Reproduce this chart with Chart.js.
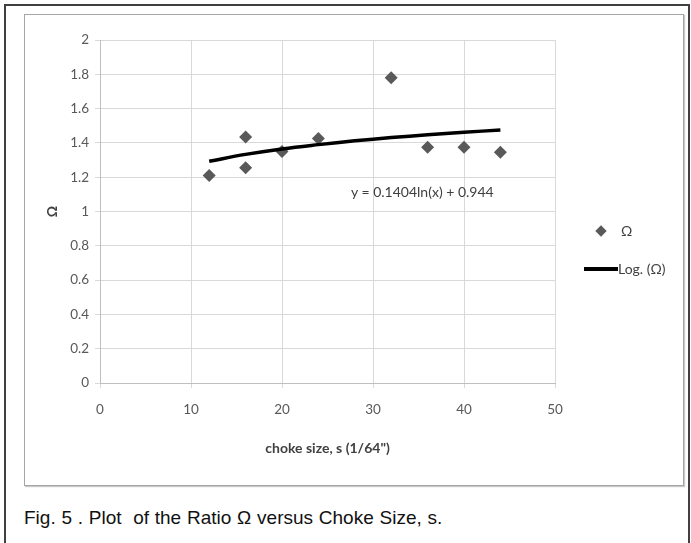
<!DOCTYPE html>
<html>
<head>
<meta charset="utf-8">
<script src="https://cdn.jsdelivr.net/npm/chart.js@4"></script>
<style>
  body { margin: 0; background: #fff; width: 691px; height: 543px; overflow: hidden; position: relative; }
  #outer { position: absolute; left: 4px; top: 4px; width: 682px; height: 600px; border: 2px solid #404040; }
  #box { position: absolute; left: 24px; top: 14px; width: 658px; height: 470px; border: 1px solid #a6a6a6; box-shadow: 1px 1px 1px #c8c8c8; }
  #grafik { position: absolute; left: 0; top: 0; }
  .txt { position: absolute; font-family: Lato, sans-serif; color: #404040; font-size: 14px; white-space: nowrap; }
  #caption { position: absolute; left: 24px; top: 507px; font-family: "Liberation Sans", Arial, sans-serif; font-size: 19px; word-spacing: 0.5px; color: #111; white-space: nowrap; }
</style>
</head>
<body>
<div id="outer"></div>
<div id="box">
  <canvas id="grafik" width="658" height="470"></canvas>
  <div class="txt" style="left:326px; top:168px;">y = 0.1404ln(x) + 0.944</div>
  <!-- legend -->
  <div style="position:absolute; left:572px; top:212px; width:8px; height:8px; background:#595959; transform:rotate(45deg);"></div>
  <div class="txt" style="left:596px; top:207px;">Ω</div>
  <div style="position:absolute; left:559px; top:252px; width:34px; height:4px; background:#000;"></div>
  <div class="txt" style="left:593px; top:245px;">Log. (Ω)</div>
</div>
<div id="caption">Fig. 5 . Plot&nbsp; of the Ratio Ω versus Choke Size, s.</div>

<script>
// ======================
// DATA
// ======================

const chokeSize = [12, 16, 16, 20, 24, 32, 36, 40, 44];
const omega = [1.21, 1.435, 1.255, 1.35, 1.425, 1.78, 1.375, 1.375, 1.345];

// trendline (Log. (Ω))
const trendX = [12, 16, 20, 24, 28, 32, 36, 40, 44];
const trendY = [1.293, 1.333, 1.365, 1.390, 1.412, 1.431, 1.447, 1.462, 1.475];

const xTicks = [0, 10, 20, 30, 40, 50];
const yTicks = [0, 0.2, 0.4, 0.6, 0.8, 1, 1.2, 1.4, 1.6, 1.8, 2];

const fontAxis = { family: 'Lato, sans-serif', size: 13.5 };
const fontTitle = { family: 'Lato, sans-serif', size: 14, weight: 'bold' };

// ======================
// GRAFIK
// ======================

const ctx = document.getElementById("grafik");

new Chart(ctx, {
    type: "scatter",
    data: {
        datasets: [{
            label: "Ω",
            data: chokeSize.map((s, i) => ({ x: s, y: omega[i] })),
            pointStyle: "rectRot",
            pointRadius: 6.5,
            backgroundColor: "#595959",
            borderColor: "#595959",
            borderWidth: 0,
            order: 1
        }, {
            label: "Log. (Ω)",
            type: "line",
            data: trendX.map((s, i) => ({ x: s, y: trendY[i] })),
            borderColor: "#000",
            borderWidth: 3.5,
            pointRadius: 0,
            tension: 0.4,
            fill: false,
            order: 0
        }]
    },
    options: {
        responsive: false,
        animation: false,
        layout: { padding: { left: 0, top: 25, right: 128, bottom: 0 } },
        plugins: {
            legend: { display: false },
            tooltip: { enabled: false }
        },
        scales: {
            x: {
                type: "linear",
                min: 0,
                max: 50,
                afterBuildTicks: (s) => { s.ticks = xTicks.map(v => ({ value: v })); },
                afterFit: (s) => { s.height = 102; },
                grid: { color: "#d9d9d9", tickLength: 5 },
                border: { color: "#bfbfbf" },
                ticks: { color: "#595959", font: fontAxis, padding: 14, maxRotation: 0 },
                title: { display: true, text: 'choke size, s (1/64")', color: "#404040", font: fontTitle, padding: { top: 0, bottom: 28 } }
            },
            y: {
                min: 0,
                max: 2,
                afterBuildTicks: (s) => { s.ticks = yTicks.map(v => ({ value: v })); },
                afterFit: (s) => { s.width = 75; },
                grid: { color: "#d9d9d9", tickLength: 5 },
                border: { color: "#bfbfbf" },
                ticks: {
                    color: "#595959",
                    font: fontAxis,
                    padding: 6,
                    callback: (v) => String(Number(v.toFixed(1)))
                },
                title: { display: true, text: "Ω", color: "#404040", font: fontTitle, padding: { top: 19, bottom: 0 } }
            }
        }
    }
});
</script>
</body>
</html>
